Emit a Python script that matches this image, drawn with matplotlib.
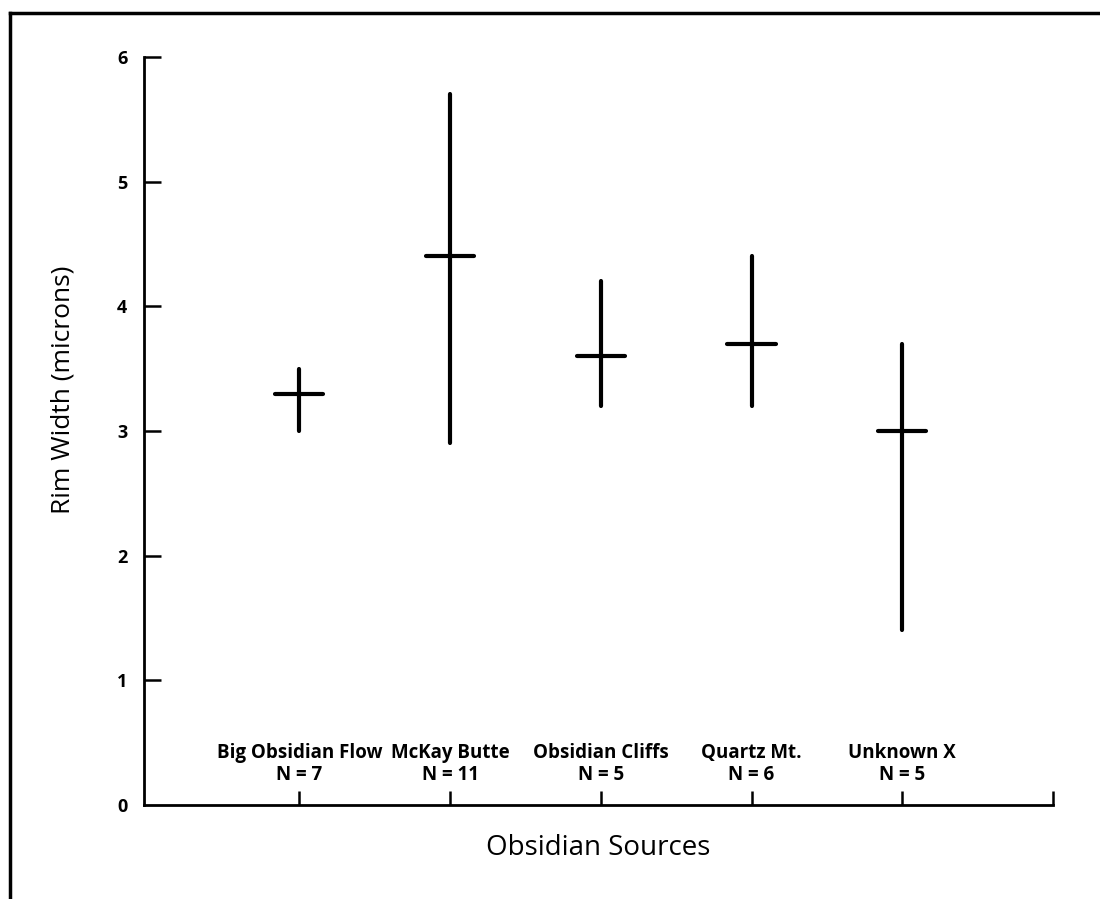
import matplotlib
matplotlib.use("Agg")
import matplotlib.pyplot as plt
from matplotlib.lines import Line2D

plt.rcParams['font.family'] = ['Open Sans', 'DejaVu Sans']

sources = ["Big Obsidian Flow", "McKay Butte", "Obsidian Cliffs", "Quartz Mt.", "Unknown X"]
n_labels = ["N = 7", "N = 11", "N = 5", "N = 6", "N = 5"]
means = [3.3, 4.4, 3.6, 3.7, 3.0]
lows = [3.0, 2.9, 3.2, 3.2, 1.4]
highs = [3.5, 5.7, 4.2, 4.4, 3.7]
positions = [1, 2, 3, 4, 5]

fig = plt.figure(figsize=(11, 8.99), dpi=100)
ax = fig.add_axes([144/1100, 1 - 805/899, (1053-144)/1100, (805-57)/899])

half = 0.16
ax.vlines(positions, lows, highs, color='black', linewidth=3.0, capstyle='round')
ax.hlines(means, [p - half for p in positions], [p + half for p in positions],
          color='black', linewidth=3.0, capstyle='round')

ax.set_xlim(-0.03, 6)
ax.set_ylim(0, 6)
for s in ['top', 'right']:
    ax.spines[s].set_visible(False)
for s in ['left', 'bottom']:
    ax.spines[s].set_linewidth(2.0)
ax.spines['left'].set_bounds(0, 6)

ax.set_yticks([0, 1, 2, 3, 4, 5, 6])
ax.set_yticklabels(['0', '1', '2', '3', '4', '5', '6'], fontweight='bold', fontsize=13)
ax.tick_params(axis='y', direction='in', length=12, width=1.8, pad=12)
ax.yaxis.get_major_ticks()[0].tick1line.set_visible(False)

ax.set_xticks([1, 2, 3, 4, 5, 6])
ax.set_xticklabels([])
ax.tick_params(axis='x', direction='in', length=10, width=1.8)

for p, name, n in zip(positions, sources, n_labels):
    ax.text(p, 0.42, name, ha='center', va='center', fontsize=13.5, fontweight='bold')
    ax.text(p, 0.24, n, ha='center', va='center', fontsize=13.5, fontweight='bold')

ax.set_ylabel("Rim Width (microns)", fontsize=19)
ax.yaxis.set_label_coords(-69/909, 0.555)
fig.text(598/1100, 1 - 848/899, "Obsidian Sources", ha='center', va='center', fontsize=20)

# Outer frame (top and left edges visible)
fig.add_artist(Line2D([10/1100, 1.0], [1 - 13/899, 1 - 13/899], color='black', linewidth=2.5,
                      transform=fig.transFigure))
fig.add_artist(Line2D([10/1100, 10/1100], [0.0, 1 - 13/899], color='black', linewidth=2.5,
                      transform=fig.transFigure))

fig.savefig("out.png", dpi=100)
